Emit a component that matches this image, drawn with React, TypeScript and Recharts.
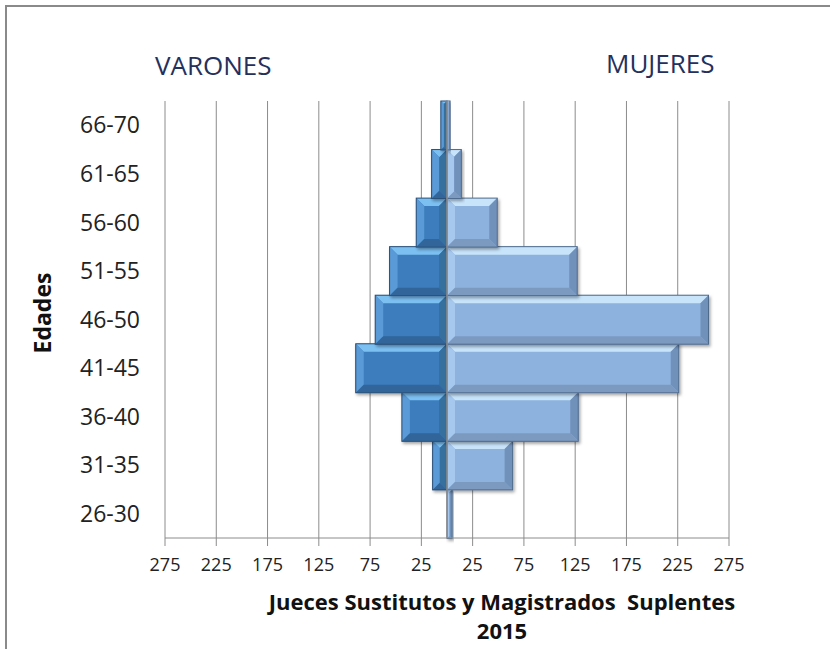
import { BarChart, Bar, XAxis, YAxis, CartesianGrid, ReferenceLine } from 'recharts';

const ageGroups = ['26-30', '31-35', '36-40', '41-45', '46-50', '51-55', '56-60', '61-65', '66-70'];
const varones = [0, 14, 44, 89, 70, 56, 30, 15, 6];
const mujeres = [5, 64, 128, 226, 255, 127, 49, 14, 3];
const xTicks = [-275, -225, -175, -125, -75, -25, 25, 75, 125, 175, 225, 275];

const data = ageGroups.map((age, i) => ({ age, varones: -varones[i], mujeres: mujeres[i] }));

type Pal = { face: string; top: string; left: string; right: string; bottom: string; edge: string };

const malePal: Pal = {
  face: '#3d7dbd',
  top: '#7cc0f2',
  left: '#5a9ad6',
  right: '#34709f',
  bottom: '#31669a',
  edge: '#2a4f78',
};
const femalePal: Pal = {
  face: '#8db2de',
  top: '#c8e4fb',
  left: '#a6c8ee',
  right: '#7091ba',
  bottom: '#7b9ac0',
  edge: '#4f6a8c',
};

const Bevel = (props: any) => {
  const pal: Pal = props.pal;
  let x = Number(props.x);
  let y = Number(props.y);
  let w = Number(props.width);
  let h = Number(props.height);
  if (!w || !h) return null;
  if (w < 0) {
    x += w;
    w = -w;
  }
  if (h < 0) {
    y += h;
    h = -h;
  }
  const b = Math.min(8, w / 2, h / 2);
  const pts = (a: number[][]) => a.map((p) => p.join(',')).join(' ');
  return (
    <g filter="url(#barShadow)">
      <rect x={x} y={y} width={w} height={h} fill={pal.face} />
      <polygon points={pts([[x, y], [x + w, y], [x + w - b, y + b], [x + b, y + b]])} fill={pal.top} />
      <polygon points={pts([[x, y], [x + b, y + b], [x + b, y + h - b], [x, y + h]])} fill={pal.left} />
      <polygon points={pts([[x + w, y], [x + w, y + h], [x + w - b, y + h - b], [x + w - b, y + b]])} fill={pal.right} />
      <polygon points={pts([[x, y + h], [x + b, y + h - b], [x + w - b, y + h - b], [x + w, y + h]])} fill={pal.bottom} />
      <rect x={x} y={y} width={w} height={h} fill="none" stroke={pal.edge} strokeWidth={1} />
    </g>
  );
};

const font = '"Open Sans", sans-serif';

export default function App() {
  return (
    <div style={{ position: 'absolute', left: 0, top: 0, width: 830, height: 649, background: '#fff', overflow: 'hidden', fontFamily: font }}>
      <div style={{ position: 'absolute', left: 5, top: 5, width: 900, height: 800, borderTop: '2px solid #8a8a8a', borderLeft: '2px solid #8a8a8a' }} />
      <BarChart
        width={830}
        height={649}
        data={data}
        layout="vertical"
        stackOffset="sign"
        barCategoryGap={0}
        margin={{ top: 101, right: 101, bottom: 71, left: 15 }}
      >
        <defs>
          <filter id="barShadow" x="-10%" y="-10%" width="130%" height="140%">
            <feDropShadow dx="1.5" dy="2" stdDeviation="1.5" floodColor="#000" floodOpacity="0.35" />
          </filter>
        </defs>
        <CartesianGrid horizontal={false} stroke="#8c8c8c" strokeWidth={1} />
        <XAxis
          type="number"
          domain={[-275, 275]}
          ticks={xTicks}
          interval={0}
          tickFormatter={(v: number) => String(Math.abs(v))}
          stroke="#8c8c8c"
          tickSize={8}
          tickMargin={12}
          height={40}
          tick={{ fill: '#222', fontSize: 18, fontFamily: font }}
        />
        <YAxis
          type="category"
          dataKey="age"
          reversed
          width={150}
          axisLine={false}
          tickLine={false}
          tickSize={0}
          tickMargin={25}
          tick={{ fill: '#222', fontSize: 23, fontFamily: font }}
        />
        <Bar dataKey="varones" stackId="p" isAnimationActive={false} shape={(p: any) => <Bevel {...p} pal={malePal} />} />
        <Bar dataKey="mujeres" stackId="p" isAnimationActive={false} shape={(p: any) => <Bevel {...p} pal={femalePal} />} />
        <ReferenceLine x={0} stroke="#8c8c8c" strokeWidth={1.5} />
      </BarChart>
      <div style={{ position: 'absolute', left: 155, top: 48, fontSize: 26, color: '#25305c', lineHeight: '34px' }}>VARONES</div>
      <div style={{ position: 'absolute', left: 606, top: 46, fontSize: 26, color: '#25305c', lineHeight: '34px' }}>MUJERES</div>
      <div
        style={{
          position: 'absolute',
          left: 42,
          top: 313,
          transform: 'translate(-50%, -50%) rotate(-90deg)',
          fontSize: 23,
          fontWeight: 700,
          color: '#111',
          whiteSpace: 'nowrap',
        }}
      >
        Edades
      </div>
      <div
        style={{
          position: 'absolute',
          left: 502,
          top: 601,
          transform: 'translate(-50%, -50%)',
          fontSize: 22,
          fontWeight: 700,
          color: '#111',
          whiteSpace: 'pre',
        }}
      >
        {'Jueces Sustitutos y Magistrados  Suplentes'}
      </div>
      <div
        style={{
          position: 'absolute',
          left: 502,
          top: 630,
          transform: 'translate(-50%, -50%)',
          fontSize: 22,
          fontWeight: 700,
          color: '#111',
        }}
      >
        2015
      </div>
    </div>
  );
}
